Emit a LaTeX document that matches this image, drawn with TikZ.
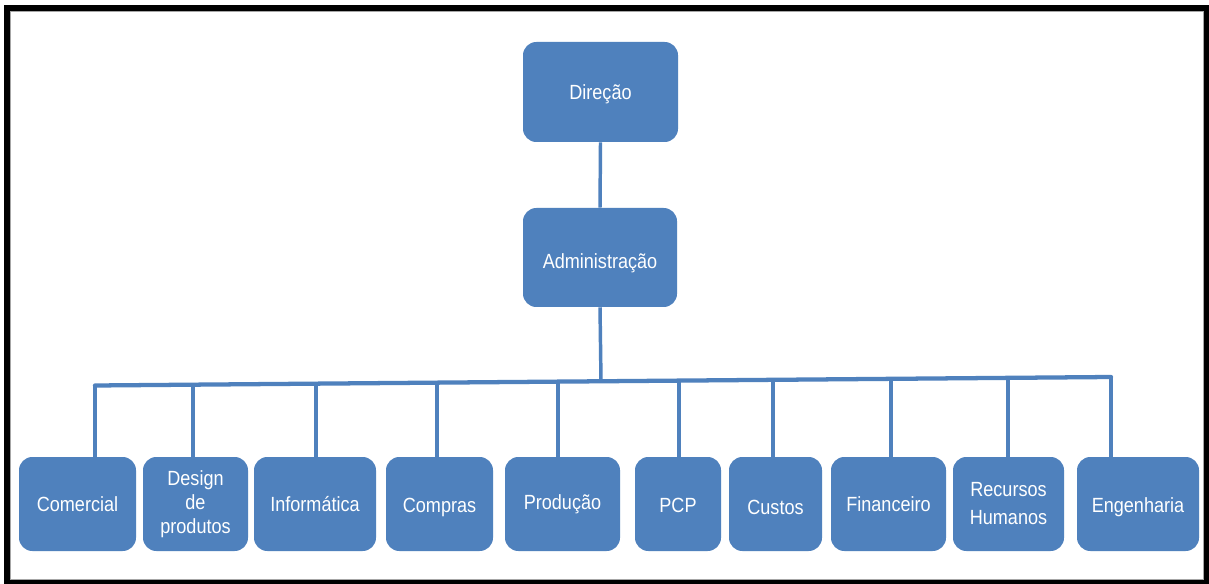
\documentclass[tikz,border=0pt]{standalone}
\usepackage{fontspec}
\setmainfont{Liberation Sans}[FakeStretch=0.88]
\definecolor{boxblue}{HTML}{4F81BD}
\newcommand{\lowr}[2]{\raisebox{-#1}[\height][\depth]{#2}}
\begin{document}
\begin{tikzpicture}[x=0.75pt,y=-0.75pt,
  orgbox/.style 2 args={fill=boxblue, draw=none, rounded corners=10pt,
    minimum width={#1*0.75pt}, minimum height={#2*0.75pt}, inner sep=0pt,
    text=white, align=center, font=\fontsize{15.4}{18}\selectfont},
  conn/.style={draw=boxblue, line width=2.6pt},
  barline/.style={draw=boxblue, line width=3.2pt, line cap=round}]
\useasboundingbox (0,0) rectangle (1209,584);
% frame
\fill[black] (4,5) rectangle (1209,584);
\fill[white] (10,11) rectangle (1204,580);
\draw[gray!70, line width=0.75pt] (10.5,11.5) rectangle (1203.5,579.5);
% top nodes
\node[orgbox={155}{100}] (dir) at (600.5,92) {\lowr{2pt}{Direção}};
\node[orgbox={154}{99}] (adm) at (600,257.5) {\lowr{4pt}{Administração}};
% bottom nodes
\node[orgbox={117}{94}] (com) at (77.5,504) {Comercial};
\node[orgbox={105}{94}] (des) at (195.5,504) {Design\\de\\produtos};
\node[orgbox={122}{94}] (inf) at (315,504) {Informática};
\node[orgbox={107}{94}] (cmp) at (439.5,504) {\lowr{2.5pt}{Compras}};
\node[orgbox={115}{94}] (pro) at (562.5,504) {Produção};
\node[orgbox={86}{94}] (pcp) at (678,504) {\lowr{1pt}{PCP}};
\node[orgbox={93}{94}] (cus) at (775.5,504) {\lowr{2.5pt}{Custos}};
\node[orgbox={115}{94}] (fin) at (888.5,504) {Financeiro};
\node[orgbox={111}{94}, font=\fontsize{15.4}{21}\selectfont] (rh) at (1008.5,504) {Recursos\\Humanos};
\node[orgbox={122}{94}] (eng) at (1138,504) {\lowr{2.5pt}{Engenharia}};
% bar coordinates
\coordinate (barL) at (95,385.5);
\coordinate (barR) at (1111,377);
\coordinate (tA) at (601,381);
\coordinate (t1) at (95,385.5);
\coordinate (t2) at (193,384.7);
\coordinate (t3) at (316,383.6);
\coordinate (t4) at (437,382.6);
\coordinate (t5) at (558,381.6);
\coordinate (t6) at (679,380.6);
\coordinate (t7) at (773,379.8);
\coordinate (t8) at (891,378.8);
\coordinate (t9) at (1008,377.9);
\coordinate (t10) at (1111,377);
% connectors
\draw[conn] (dir.south) -- (adm.north);
\draw[conn] (adm.south) -- (tA);
\draw[barline] (barL) -- (barR);
\draw[conn] (t1) -- (t1 |- com.north);
\draw[conn] (t2) -- (t2 |- des.north);
\draw[conn] (t3) -- (t3 |- inf.north);
\draw[conn] (t4) -- (t4 |- cmp.north);
\draw[conn] (t5) -- (t5 |- pro.north);
\draw[conn] (t6) -- (t6 |- pcp.north);
\draw[conn] (t7) -- (t7 |- cus.north);
\draw[conn] (t8) -- (t8 |- fin.north);
\draw[conn] (t9) -- (t9 |- rh.north);
\draw[conn] (t10) -- (t10 |- eng.north);
\end{tikzpicture}
\end{document}
